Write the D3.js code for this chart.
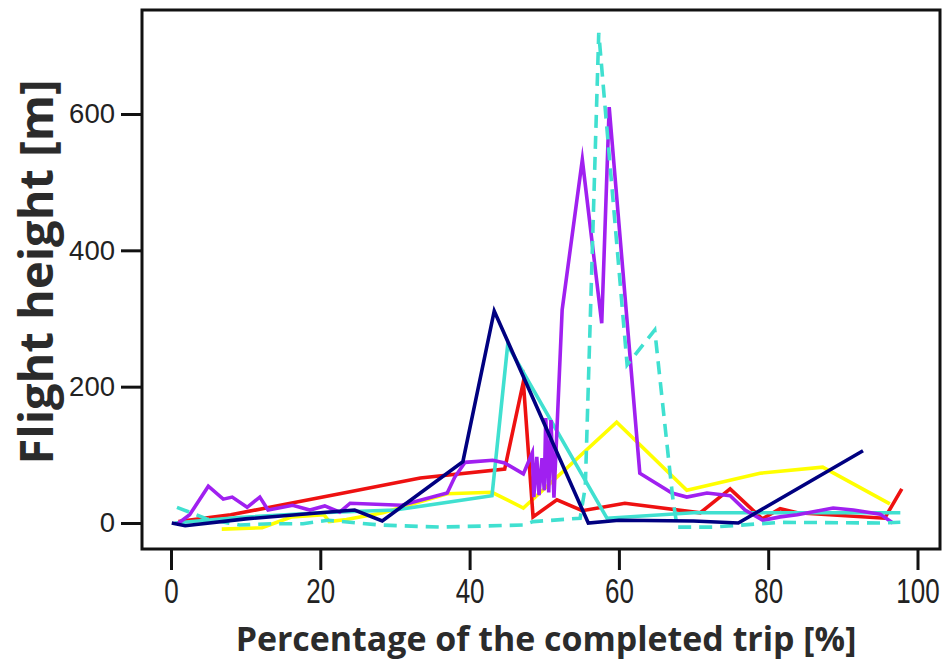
<!DOCTYPE html>
<html><head><meta charset="utf-8">
<script src="https://cdn.jsdelivr.net/npm/d3@7"></script>
<style>body{margin:0;background:#fff}svg{display:block}</style>
</head><body><svg id="c" width="945" height="666"></svg>
<script>
// ---- data ----
const xTicks = [0, 20, 40, 60, 80, 100];
const yTicks = [0, 200, 400, 600];
const xTitle = "Percentage of the completed trip [%]";
const yTitle = "Flight height [m]";

const yellowX = [6.8, 12.2, 16.2, 20.5, 21.2, 23.5, 28.4, 37.0, 43.0, 47.2, 59.7, 69.1, 78.9, 87.3, 96.3];
const yellowY = [-9, -7, 9, 12, 2, 5, 15, 43, 45, 22, 148, 48, 73, 82, 28];

const redX = [1.0, 8.0, 22.6, 33.4, 44.7, 47.2, 48.5, 51.7, 55.1, 60.8, 70.9, 74.9, 79.2, 81.6, 83.9, 95.6, 97.9];
const redY = [2, 12, 43, 66, 79, 207, 9, 34, 18, 29, 15, 50, 6, 21, 15, 7, 50];

const cyanX = [0.5, 9.0, 20.0, 30.0, 43.0, 45.1, 58.4, 70.0, 97.7];
const cyanY = [0, 8, 15, 19, 40, 261, 7, 15, 15];

const purpleX = [0.9, 2.5, 5.0, 7.0, 8.2, 10.2, 11.9, 13.0, 16.3, 18.6, 20.6, 22.6, 24.0, 30.9, 37.0, 38.0, 39.4, 43.1, 44.7, 47.2,
  48.4, 48.6, 49.0, 49.3, 49.7, 50.0, 50.2, 50.6, 50.9, 51.3, 52.4, 55.1, 57.7, 58.7, 62.8, 67.1, 69.1, 71.8, 74.9, 76.9, 79.3, 81.6, 83.9, 88.7, 91.4, 95.0, 96.7];
const purpleY = [-1, 12, 54, 35, 38, 23, 38, 19, 26, 19, 25, 16, 29, 26, 44, 67, 89, 92, 88, 72,
  103, 38, 97, 41, 95, 48, 154, 45, 151, 37, 313, 533, 293, 610, 73, 44, 38, 44, 40, 19, 4, 9, 12, 22, 19, 13, 0];

const dashX = [0.8, 4.8, 9.2, 13.7, 17.7, 21.0, 28.0, 36.0, 47.2, 48.5, 54.8, 55.5, 57.3, 61.1, 64.8, 67.2, 67.8, 72.6, 81.6, 95.0, 97.7];
const dashY = [23, 6, -3, -1, -1, 4, -3, -6, -3, 2, 7, 53, 719, 232, 283, 38, -6, -6, 1, 0, 1];

const navyX = [0.1, 1.9, 10.0, 20.0, 24.6, 28.3, 39.1, 43.3, 55.9, 60.0, 70.0, 76.0, 92.7];
const navyY = [0, -4, 6, 15, 19, 3, 90, 311, 0, 4, 3, 0, 106];

const seriesList = [
  {name: "yellow", xs: yellowX, ys: yellowY, color: "#ffff00", dash: null},
  {name: "red", xs: redX, ys: redY, color: "#ee1111", dash: null},
  {name: "cyan", xs: cyanX, ys: cyanY, color: "#40e0d0", dash: null},
  {name: "purple", xs: purpleX, ys: purpleY, color: "#a020f0", dash: null},
  {name: "cyanDashed", xs: dashX, ys: dashY, color: "#40e0d0", dash: "13,8"},
  {name: "navy", xs: navyX, ys: navyY, color: "#000080", dash: null}
];

// ---- layout ----
const svg = d3.select("#c");
const x = d3.scaleLinear().domain([0, 100]).range([171, 917.5]);
const y = d3.scaleLinear().domain([0, 600]).range([523, 114]);
const frame = {left: 142, top: 10, right: 940, bottom: 549};

svg.append("defs").append("clipPath").attr("id", "clip")
  .append("rect").attr("x", frame.left).attr("y", frame.top)
  .attr("width", frame.right - frame.left).attr("height", frame.bottom - frame.top);

const line = d3.line().x(d => x(d[0])).y(d => y(d[1]));
const g = svg.append("g").attr("clip-path", "url(#clip)");
seriesList.forEach(s => {
  const pts = s.xs.map((v, i) => [v, s.ys[i]]);
  g.append("path").datum(pts).attr("d", line)
    .attr("fill", "none").attr("stroke", s.color).attr("stroke-width", 3.6)
    .attr("stroke-linejoin", "miter").attr("stroke-miterlimit", 10)
    .attr("stroke-dasharray", s.dash);
});

// frame
svg.append("rect").attr("x", frame.left).attr("y", frame.top)
  .attr("width", frame.right - frame.left).attr("height", frame.bottom - frame.top)
  .attr("fill", "none").attr("stroke", "#111").attr("stroke-width", 3);

// y axis
const yAxis = d3.axisLeft(y).tickValues(yTicks).tickSize(21).tickPadding(6);
const ya = svg.append("g").attr("transform", `translate(${frame.left},0)`).call(yAxis);
ya.select(".domain").remove();
ya.selectAll(".tick line").attr("stroke", "#111").attr("stroke-width", 3);
ya.selectAll(".tick text").attr("font-family", "Liberation Sans, Arial, sans-serif")
  .attr("font-size", 27.5).attr("fill", "#222");

// x axis
const xAxis = d3.axisBottom(x).tickValues(xTicks).tickSize(21).tickPadding(8);
const xa = svg.append("g").attr("transform", `translate(0,${frame.bottom})`).call(xAxis);
xa.select(".domain").remove();
xa.selectAll(".tick line").attr("stroke", "#111").attr("stroke-width", 3);
xa.selectAll(".tick text").attr("font-family", "Liberation Sans, Arial, sans-serif")
  .attr("font-size", 26).attr("fill", "#222")
  .attr("transform", "translate(0,29) scale(1,1.35) translate(0,-29)");

// titles
function fitText(sel, target) {
  const w = sel.node().getComputedTextLength();
  const fs = parseFloat(sel.attr("font-size"));
  sel.attr("font-size", fs * target / w);
}
const xt = svg.append("text").attr("x", 546).attr("y", 651).attr("text-anchor", "middle")
  .attr("font-family", "Open Sans, sans-serif").attr("font-weight", 700)
  .attr("font-size", 28).attr("fill", "#2b2b2b").text(xTitle);
fitText(xt, 621);
const yt = svg.append("text").attr("transform", "translate(53,272) rotate(-90)")
  .attr("text-anchor", "middle")
  .attr("font-family", "Open Sans, sans-serif").attr("font-weight", 700)
  .attr("font-size", 28).attr("fill", "#2b2b2b").text(yTitle);
fitText(yt, 385);
</script></body></html>
